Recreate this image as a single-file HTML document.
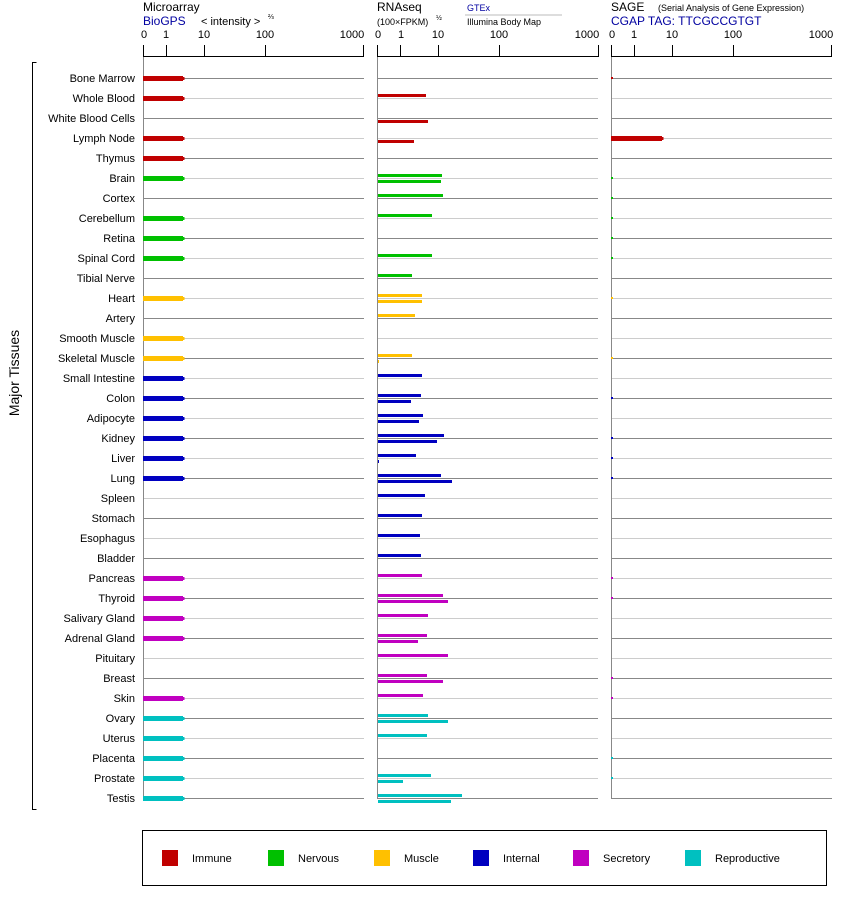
<!DOCTYPE html>
<html><head><meta charset="utf-8"><style>
body{margin:0;background:#fff;}
svg{display:block;font-family:"Liberation Sans",Arial,sans-serif;}
</style></head><body>
<svg width="842" height="900" xmlns="http://www.w3.org/2000/svg">
<!-- headers -->
<text x="143" y="11" font-size="12">Microarray</text>
<text x="143" y="25" font-size="12" fill="#0000a0">BioGPS</text>
<text x="201" y="25" font-size="11">&lt; intensity &gt;</text>
<text x="268" y="19" font-size="7">⅔</text>
<text x="377" y="11" font-size="12">RNAseq</text>
<text x="377" y="25" font-size="9">(100×FPKM)</text>
<text x="436" y="20" font-size="7">½</text>
<text x="467" y="11" font-size="9" fill="#0000a0">GTEx</text>
<line x1="465" y1="15" x2="562" y2="15" stroke="#bbb"/>
<text x="467" y="25" font-size="9">Illumina Body Map</text>
<text x="611" y="11" font-size="12">SAGE</text>
<text x="658" y="11" font-size="9">(Serial Analysis of Gene Expression)</text>
<text x="611" y="25" font-size="12" fill="#0000a0">CGAP TAG: TTCGCCGTGT</text>
<!-- axes -->
<g stroke="#000" stroke-width="1">
<line x1="143" y1="56.5" x2="364" y2="56.5"/>
<line x1="143.5" y1="45" x2="143.5" y2="57"/><line x1="166.5" y1="45" x2="166.5" y2="57"/><line x1="204.5" y1="45" x2="204.5" y2="57"/><line x1="265.5" y1="45" x2="265.5" y2="57"/><line x1="363.5" y1="45" x2="363.5" y2="57"/>
<line x1="377" y1="56.5" x2="599" y2="56.5"/>
<line x1="377.5" y1="45" x2="377.5" y2="57"/><line x1="400.5" y1="45" x2="400.5" y2="57"/><line x1="438.5" y1="45" x2="438.5" y2="57"/><line x1="499.5" y1="45" x2="499.5" y2="57"/><line x1="598.5" y1="45" x2="598.5" y2="57"/>
<line x1="611" y1="56.5" x2="832" y2="56.5"/>
<line x1="611.5" y1="45" x2="611.5" y2="57"/><line x1="634.5" y1="45" x2="634.5" y2="57"/><line x1="672.5" y1="45" x2="672.5" y2="57"/><line x1="733.5" y1="45" x2="733.5" y2="57"/><line x1="831.5" y1="45" x2="831.5" y2="57"/>
</g>
<g font-size="11" text-anchor="middle">
<text x="144" y="38">0</text><text x="166" y="38">1</text><text x="204" y="38">10</text><text x="265" y="38">100</text><text x="352" y="38">1000</text>
<text x="378" y="38">0</text><text x="401" y="38">1</text><text x="438" y="38">10</text><text x="499" y="38">100</text><text x="587" y="38">1000</text>
<text x="612" y="38">0</text><text x="634" y="38">1</text><text x="672" y="38">10</text><text x="733" y="38">100</text><text x="821" y="38">1000</text>
</g>
<!-- bracket -->
<path d="M36.5 62.5 H32.5 V809.5 H36.5" fill="none" stroke="#000"/>
<text transform="translate(19,373) rotate(-90)" font-size="14" text-anchor="middle">Major Tissues</text>
<g id="rows" stroke-width="1"></g>
<g stroke="#888">
<line x1="143.5" y1="57" x2="143.5" y2="799"/>
<line x1="377.5" y1="57" x2="377.5" y2="799"/>
<line x1="611.5" y1="57" x2="611.5" y2="799"/>
</g>
<g font-size="11" text-anchor="end">
<text x="135" y="82">Bone Marrow</text><text x="135" y="102">Whole Blood</text><text x="135" y="122">White Blood Cells</text><text x="135" y="142">Lymph Node</text><text x="135" y="162">Thymus</text>
<text x="135" y="182">Brain</text><text x="135" y="202">Cortex</text><text x="135" y="222">Cerebellum</text><text x="135" y="242">Retina</text><text x="135" y="262">Spinal Cord</text><text x="135" y="282">Tibial Nerve</text>
<text x="135" y="302">Heart</text><text x="135" y="322">Artery</text><text x="135" y="342">Smooth Muscle</text><text x="135" y="362">Skeletal Muscle</text>
<text x="135" y="382">Small Intestine</text><text x="135" y="402">Colon</text><text x="135" y="422">Adipocyte</text><text x="135" y="442">Kidney</text><text x="135" y="462">Liver</text><text x="135" y="482">Lung</text><text x="135" y="502">Spleen</text><text x="135" y="522">Stomach</text><text x="135" y="542">Esophagus</text><text x="135" y="562">Bladder</text>
<text x="135" y="582">Pancreas</text><text x="135" y="602">Thyroid</text><text x="135" y="622">Salivary Gland</text><text x="135" y="642">Adrenal Gland</text><text x="135" y="662">Pituitary</text><text x="135" y="682">Breast</text><text x="135" y="702">Skin</text>
<text x="135" y="722">Ovary</text><text x="135" y="742">Uterus</text><text x="135" y="762">Placenta</text><text x="135" y="782">Prostate</text><text x="135" y="802">Testis</text>
</g>
<g id="bars"></g>
<rect x="142.5" y="830.5" width="684" height="55" fill="none" stroke="#000"/>
<g font-size="11">
<rect x="162" y="850" width="16" height="16" fill="#c00000"/><text x="192" y="862">Immune</text>
<rect x="268" y="850" width="16" height="16" fill="#00c000"/><text x="298" y="862">Nervous</text>
<rect x="374" y="850" width="16" height="16" fill="#ffc000"/><text x="404" y="862">Muscle</text>
<rect x="473" y="850" width="16" height="16" fill="#0000c0"/><text x="503" y="862">Internal</text>
<rect x="573" y="850" width="16" height="16" fill="#c000c0"/><text x="603" y="862">Secretory</text>
<rect x="685" y="850" width="16" height="16" fill="#00c0c0"/><text x="715" y="862">Reproductive</text>
</g>
</svg>
<script>
var NS="http://www.w3.org/2000/svg";
function el(p,t,a){var e=document.createElementNS(NS,t);for(var k in a)e.setAttribute(k,a[k]);p.appendChild(e);return e;}
var C=["#c00000","#00c000","#ffc000","#0000c0","#c000c0","#00c0c0"];
var cat=[0,0,0,0,0,1,1,1,1,1,1,2,2,2,2,3,3,3,3,3,3,3,3,3,3,4,4,4,4,4,4,4,5,5,5,5,5];
var micro=[1,1,0,1,1,1,0,1,1,1,0,1,0,1,1,1,1,1,1,1,1,0,0,0,0,1,1,1,1,0,0,1,1,1,1,1,1];
var rna=[[0,0],[426,0],[0,428],[0,414],[0,0],[442,441],[443,0],[432,0],[0,0],[432,0],[412,0],[422,422],[415,0],[0,0],[412,379],[422,0],[421,411],[423,419],[444,437],[416,379],[441,452],[425,0],[422,0],[420,0],[421,0],[422,0],[443,448],[428,0],[427,418],[448,0],[427,443],[423,0],[428,448],[427,0],[0,0],[431,403],[462,451]];
var sage=[1,0,0,0,0,1,1,1,1,1,0,1,0,0,1,0,1,0,1,1,1,0,0,0,0,1,1,0,0,0,1,1,0,0,1,1,0];
var rows=document.getElementById("rows"),bars=document.getElementById("bars");
for(var i=0;i<37;i++){var y=78+20*i,s=i%2?"#ccc":"#888";
 el(rows,"line",{x1:143,x2:364,y1:y+.5,y2:y+.5,stroke:s});
 el(rows,"line",{x1:377,x2:598,y1:y+.5,y2:y+.5,stroke:s});
 el(rows,"line",{x1:611,x2:832,y1:y+.5,y2:y+.5,stroke:s});
 var c=C[cat[i]];
 if(micro[i]){el(bars,"rect",{x:143,y:y-2,width:40,height:5,fill:c});el(bars,"rect",{x:183,y:y-1,width:1.5,height:3,fill:c});}
 if(rna[i][0])el(bars,"rect",{x:378,y:y-4,width:rna[i][0]-378,height:3,fill:c});
 if(rna[i][1])el(bars,"rect",{x:378,y:y+2,width:rna[i][1]-378,height:3,fill:c});
 if(sage[i])el(bars,"rect",{x:611,y:y-1,width:2,height:2,fill:c});
}
el(bars,"rect",{x:611,y:136,width:51,height:5,fill:"#c00000"});
el(bars,"rect",{x:662,y:137,width:1.5,height:3,fill:"#c00000"});
</script>
</body></html>
